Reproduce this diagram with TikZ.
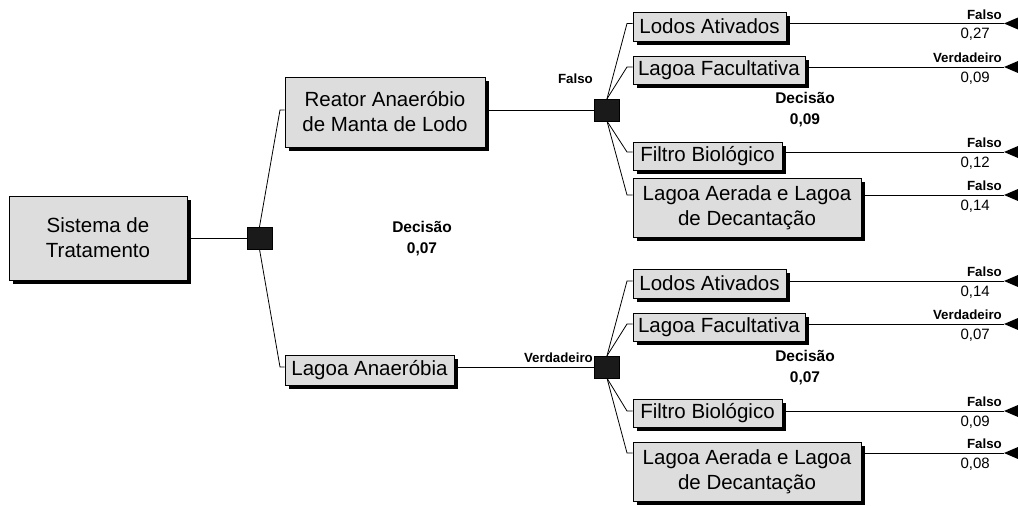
\documentclass[tikz,border=0pt]{standalone}
\usepackage{fontspec}
\setmainfont{Liberation Sans}
\usetikzlibrary{shadows,calc}
\definecolor{boxgray}{RGB}{221,221,221}
\definecolor{sqfill}{RGB}{26,26,26}
\tikzset{
  box/.style={draw=black, line width=0.7pt, fill=boxgray,
    drop shadow={shadow xshift=3.5pt, shadow yshift=-3.5pt, fill=black, opacity=1},
    inner sep=0pt, align=center, font=\fontsize{20.5}{25}\selectfont},
  sq/.style={draw=black, fill=sqfill, minimum width=25pt, minimum height=22pt, inner sep=0pt},
  lab/.style={font=\fontsize{13.3}{15}\selectfont\bfseries, inner sep=0pt},
  val/.style={font=\fontsize{15}{17}\selectfont, inner sep=0pt},
  dec/.style={font=\fontsize{15.5}{21}\selectfont\bfseries, align=center, inner sep=0pt},
  conn/.style={line width=0.8pt},
}
\newcommand{\leafline}[5]{%
  \coordinate (b#1) at (627,#2);
  \draw[conn] (#5) -- (b#1) -- (b#1 -| #1.west);
  \coordinate (e#1) at (1004,#2);
  \draw[conn] (b#1 -| #1.east) -- (e#1);
  \fill (e#1) -- ++(14,-6) -- ++(0,12) -- cycle;
  \node[lab, anchor=south east] (l#1) at (1002,#2-4) {#3};
  \node[val, anchor=north east] (v#1) at (990,#2+4.5) {#4};
}
\begin{document}
\begin{tikzpicture}[x=1pt,y=-1pt]
\useasboundingbox (0,0) rectangle (1018,506);

% root
\node[box, minimum width=178pt, minimum height=84pt] (sys) at (98,238) {Sistema de\\Tratamento};
\node[sq] (sq0) at (259.5,238) {};
\draw[conn] (sys.east |- sq0) -- (sq0.west);

% level 1
\node[box, minimum width=200pt, minimum height=70pt] (reator) at (385,112) {Reator Anaeróbio\\de Manta de Lodo};
\node[box, minimum width=169pt, minimum height=30pt] (anae) at (369.5,370) {Lagoa Anaeróbia};
\coordinate (k0a) at (280,110);
\coordinate (k0b) at (280,367);
\draw[conn] (sq0.north) -- (k0a) -- (k0a -| reator.west);
\draw[conn] (sq0.south) -- (k0b) -- (k0b -| anae.west);
\node[dec] (d0) at (422,239) {Decisão\\0,07};

% decision squares
\node[sq] (sq1) at (607,110) {};
\node[sq] (sq2) at (607,367) {};
\draw[conn] (reator.east |- sq1) -- (sq1.west);
\draw[conn] (anae.east |- sq2) -- (sq2.west);
\node[lab, anchor=east] (f0) at (593,79) {Falso};
\node[lab, anchor=east] (t0) at (593,358) {Verdadeiro};

% top group
\node[box, minimum width=153pt, minimum height=29pt] (la1) at (709.5,26.5) {Lodos Ativados};
\node[box, minimum width=172pt, minimum height=28pt] (lf1) at (719,70) {Lagoa Facultativa};
\node[box, minimum width=149pt, minimum height=28pt] (fb1) at (707.5,156) {Filtro Biológico};
\node[box, minimum width=228pt, minimum height=59pt] (lad1) at (747,207.5) {Lagoa Aerada e Lagoa\\de Decantação};
\node[dec] (d1) at (805,110) {Decisão\\0,09};
\leafline{la1}{23.5}{Falso}{0,27}{sq1.north}
\leafline{lf1}{67}{Verdadeiro}{0,09}{sq1.north}
\leafline{fb1}{152}{Falso}{0,12}{sq1.south}
\leafline{lad1}{195}{Falso}{0,14}{sq1.south}

% bottom group
\node[box, minimum width=153pt, minimum height=29pt] (la2) at (709.5,283.5) {Lodos Ativados};
\node[box, minimum width=172pt, minimum height=28pt] (lf2) at (719,327) {Lagoa Facultativa};
\node[box, minimum width=149pt, minimum height=28pt] (fb2) at (707.5,413) {Filtro Biológico};
\node[box, minimum width=228pt, minimum height=59pt] (lad2) at (747,471.5) {Lagoa Aerada e Lagoa\\de Decantação};
\node[dec] (d2) at (805,368) {Decisão\\0,07};
\leafline{la2}{281}{Falso}{0,14}{sq2.north}
\leafline{lf2}{324}{Verdadeiro}{0,07}{sq2.north}
\leafline{fb2}{411}{Falso}{0,09}{sq2.south}
\leafline{lad2}{453}{Falso}{0,08}{sq2.south}
\end{tikzpicture}
\end{document}
